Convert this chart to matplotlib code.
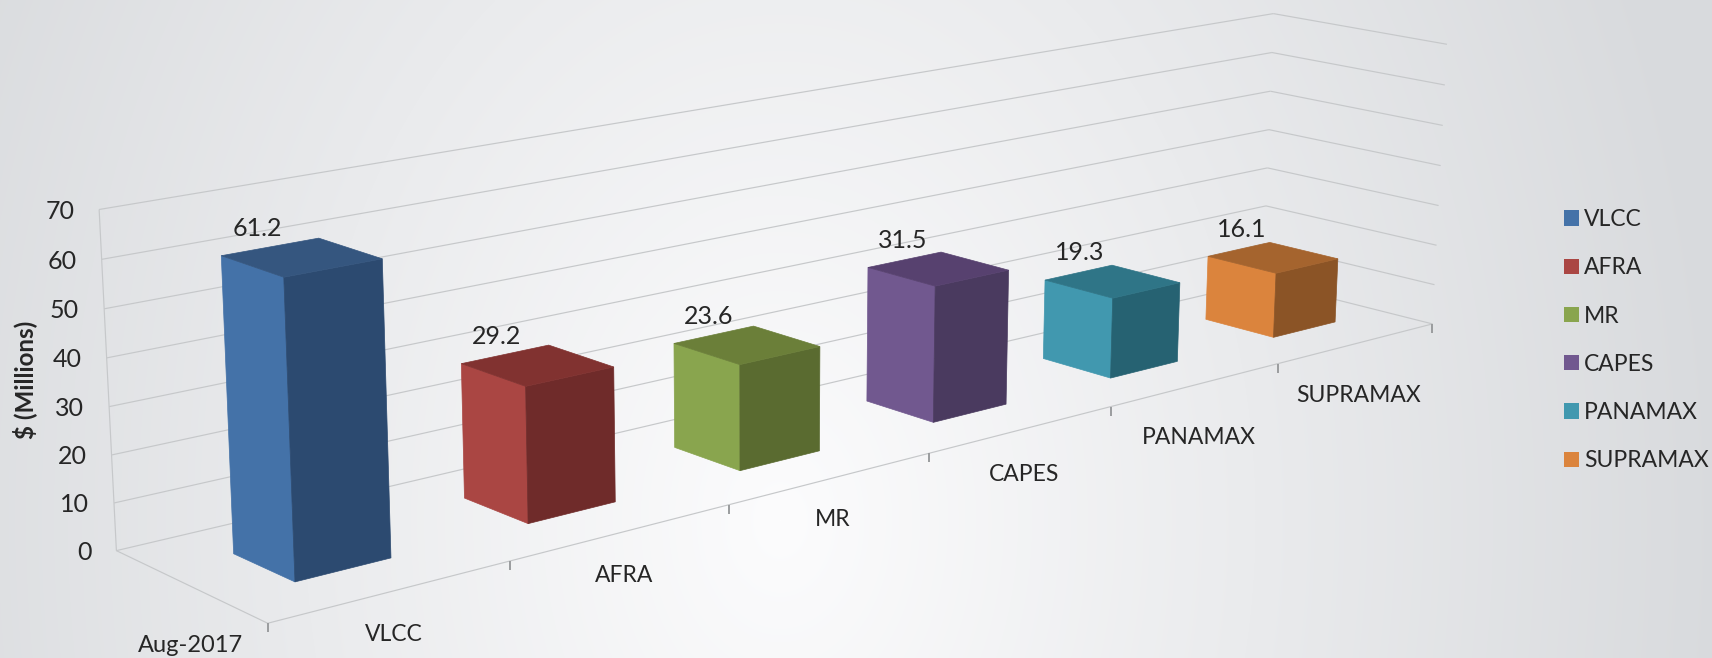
import numpy as np
import matplotlib
matplotlib.use("Agg")
import matplotlib.pyplot as plt
from matplotlib.patches import Polygon, Patch

categories = ["VLCC", "AFRA", "MR", "CAPES", "PANAMAX", "SUPRAMAX"]
values = [61.2, 29.2, 23.6, 31.5, 19.3, 16.1]
value_labels = ["61.2", "29.2", "23.6", "31.5", "19.3", "16.1"]
y_ticks = [0, 10, 20, 30, 40, 50, 60, 70]
series_name = "Aug-2017"
y_title = "$ (Millions)"
side_colors = ["#4472A8", "#AA4643", "#89A54E", "#71588F", "#4198AF", "#DB843D"]
front_colors = ["#2C4A70", "#6F2B2A", "#5A6B30", "#4A3A5F", "#266272", "#8B5426"]
top_colors = ["#35567F", "#813230", "#6B7F39", "#57416F", "#2F7587", "#A5642E"]

plt.rcParams["font.family"] = ["Lato", "DejaVu Sans"]
W, H = 1712, 658
CAM = np.array([
    [2.68567152e+02, -1.44097984e+02, -3.00975963e-01, 2.67687056e+02],
    [-3.30563730e+01, -3.85559906e+01, -5.25776545e+00, 6.23251690e+02],
    [5.19646514e-02, 6.18577613e-02, -3.95316123e-04, 1.00000000e+00]])


def project(x, d, v):
    """Chart space (category, depth 0..1, value) to figure pixels."""
    h = CAM @ np.array([x, d, v, 1.0])
    return h[0] / h[2], h[1] / h[2]


fig = plt.figure(figsize=(W / 100, H / 100), dpi=100)
ax = fig.add_axes([0, 0, 1, 1])
ax.set_xlim(0, W)
ax.set_ylim(H, 0)
ax.axis("off")

# background gradient
yy, xx = np.mgrid[0:H, 0:W]
t = np.clip(np.hypot((xx - 780) / 950, (yy - 520) / 1300), 0, 1)
lo = np.array([252, 252, 253]) / 255
hi = np.array([216, 218, 221]) / 255
bg = lo + (hi - lo) * t[..., None]
ax.imshow(bg, extent=(0, W, H, 0), aspect="auto", zorder=0)

n = len(categories)
grid = "#C6C8CA"
ink = "#262626"


def seg(a, b):
    p, q = project(*a), project(*b)
    ax.plot([p[0], q[0]], [p[1], q[1]], color=grid, lw=0.85, zorder=1, solid_capstyle="butt")


for v in y_ticks:
    seg((0, 1, v), (n, 1, v))
    seg((n, 1, v), (n, 0, v))
    px, py = project(0, 1, v)
    ax.text(px - 25, py + 2, str(v), ha="right", va="center", fontsize=18, color=ink, zorder=5)
seg((0, 1, y_ticks[0]), (0, 1, y_ticks[-1]))
seg((0, 1, 0), (0, 0, 0))
seg((0, 0, 0), (n, 0, 0))

for i in range(n + 1):
    p = project(i, 0, 0)
    ax.plot([p[0], p[0]], [p[1], p[1] + 9], color="#9A9C9E", lw=1.4, zorder=1, solid_capstyle="butt")

w0, w1, d0, d1 = 0.3, 0.7, 0.3, 0.7
label_drop = (43, 43, 41, 45, 53, 52)
for i, val in enumerate(values):
    a, b = i + w0, i + w1
    side = [project(a, d1, val), project(a, d0, val), project(a, d0, 0), project(a, d1, 0)]
    front = [project(a, d0, val), project(b, d0, val), project(b, d0, 0), project(a, d0, 0)]
    top = [project(a, d1, val), project(b, d1, val), project(b, d0, val), project(a, d0, val)]
    for poly, col in ((side, side_colors[i]), (front, front_colors[i]), (top, top_colors[i])):
        ax.add_patch(Polygon(poly, closed=True, facecolor=col, edgecolor=col, lw=0.5, zorder=3))
    lx, ly = project(i + 0.33, d1, val)
    ax.text(lx + 29, ly - 26, value_labels[i], ha="center", va="center", fontsize=18, color=ink, zorder=5)
    cx, cy = project(i + 0.5, 0, 0)
    ax.text(cx + 2, cy + label_drop[i], categories[i], ha="center", va="center", fontsize=16.5, color=ink, zorder=5)

sx, sy = project(0, 0.5, 0)
ax.text(sx + 1, sy + 60, series_name, ha="center", va="center", fontsize=17, color=ink, zorder=5)
ax.text(25, 380, y_title, rotation=90, ha="center", va="center", fontsize=17.4, fontweight="bold", color=ink, zorder=5)

handles = [Patch(facecolor=c, edgecolor="none", label=l) for c, l in zip(side_colors, categories)]
ax.legend(handles=handles, loc="upper left", bbox_to_anchor=(1564 / W, 1 - 209 / H), frameon=False,
          fontsize=16.5, labelspacing=1.19, handlelength=0.65, handleheight=0.65, handletextpad=0.22,
          borderpad=0, borderaxespad=0, labelcolor=ink)

fig.savefig("out.png", dpi=100)
